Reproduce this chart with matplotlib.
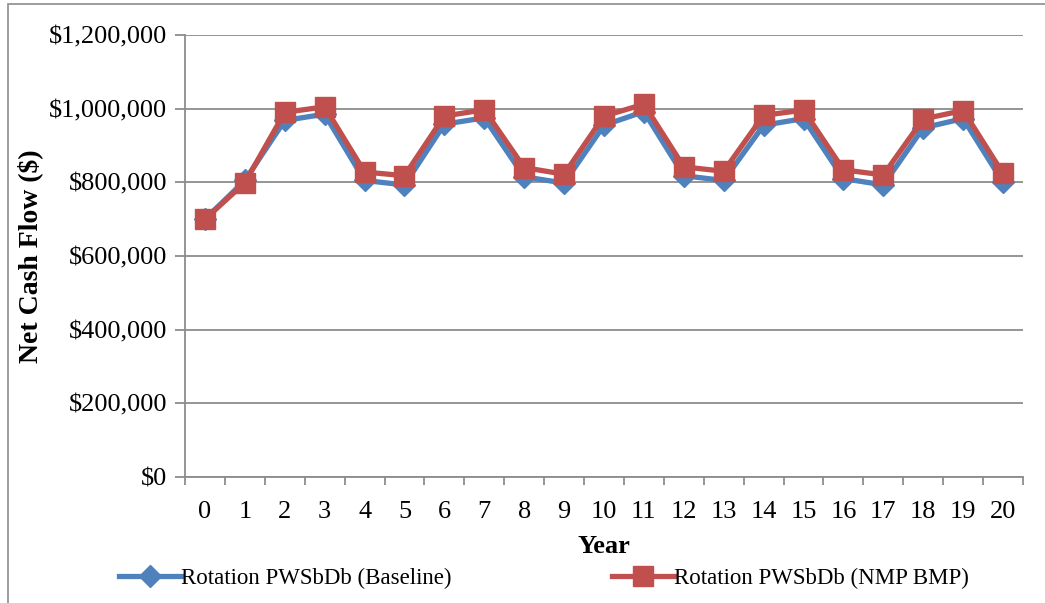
import matplotlib.pyplot as plt
from matplotlib.patches import Rectangle
from matplotlib.ticker import FuncFormatter, FixedLocator
import numpy as np

plt.rcParams['font.family'] = ['Liberation Serif', 'DejaVu Serif']

# данные (тыс. $)
years = list(range(21))
baseline = [700, 805, 968, 985, 805, 793, 958, 975, 815, 798, 955, 992,
            818, 805, 955, 973, 810, 793, 948, 973, 800]
nmp_bmp = [700, 799, 990, 1005, 828, 818, 980, 997, 840, 822, 980, 1012,
           842, 830, 982, 996, 834, 820, 972, 995, 824]
labels = ['Rotation PWSbDb (Baseline)', 'Rotation PWSbDb (NMP BMP)']

blue = '#4F81BD'
red = '#C0504D'
grid_c = '#8C8C8C'

fig = plt.figure(figsize=(10.45, 6.03), dpi=100)
fig.patches.append(Rectangle((8 / 1045, -0.1), 1.2, (603 - 4) / 603 + 0.1,
                             transform=fig.transFigure, fill=False,
                             edgecolor=grid_c, linewidth=1.2))
ax = fig.add_axes([185 / 1045, 1 - 477 / 603, (1023 - 185) / 1045, (477 - 35) / 603])

x = np.arange(len(years))
ax.plot(x, np.array(baseline) * 1000, color=blue, lw=3.8, marker='D',
        markersize=11, label=labels[0], zorder=3)
ax.plot(x, np.array(nmp_bmp) * 1000, color=red, lw=3.8, marker='s',
        markersize=14, label=labels[1], zorder=4)

ax.set_xlim(-0.5, len(years) - 0.5)
ax.set_ylim(0, 1200000)
ax.set_yticks(np.arange(0, 1200001, 200000))
ax.yaxis.set_major_formatter(FuncFormatter(lambda v, p: '${:,.0f}'.format(v)))
ax.grid(axis='y', color=grid_c, lw=1.3)
ax.set_axisbelow(True)

# подписи лет по центру, штрихи между категориями
ax.set_xticks(x)
ax.set_xticklabels([str(y) for y in years])
ax.xaxis.set_minor_locator(FixedLocator(np.arange(-0.5, len(years), 1)))
ax.tick_params(axis='x', which='major', length=0, labelsize=19, pad=17)
ax.tick_params(axis='x', which='minor', length=6, width=1.3, color=grid_c)
ax.tick_params(axis='y', length=7, width=1.3, color=grid_c, labelsize=19, pad=6)

for s in ['top', 'right']:
    ax.spines[s].set_visible(False)
for s in ['left', 'bottom']:
    ax.spines[s].set_color(grid_c)
    ax.spines[s].set_linewidth(1.3)

ax.set_xlabel('Year', fontsize=19, fontweight='bold', labelpad=9)
ax.set_ylabel('Net Cash Flow ($)', fontsize=20, fontweight='bold', labelpad=4)

ax.legend(loc='center', bbox_to_anchor=(0.428, -0.229), ncol=2, frameon=False,
          fontsize=16.5, handlelength=2.7, handletextpad=0.0, columnspacing=7.0,
          borderaxespad=0, borderpad=0)

plt.savefig('out.png', dpi=100)
